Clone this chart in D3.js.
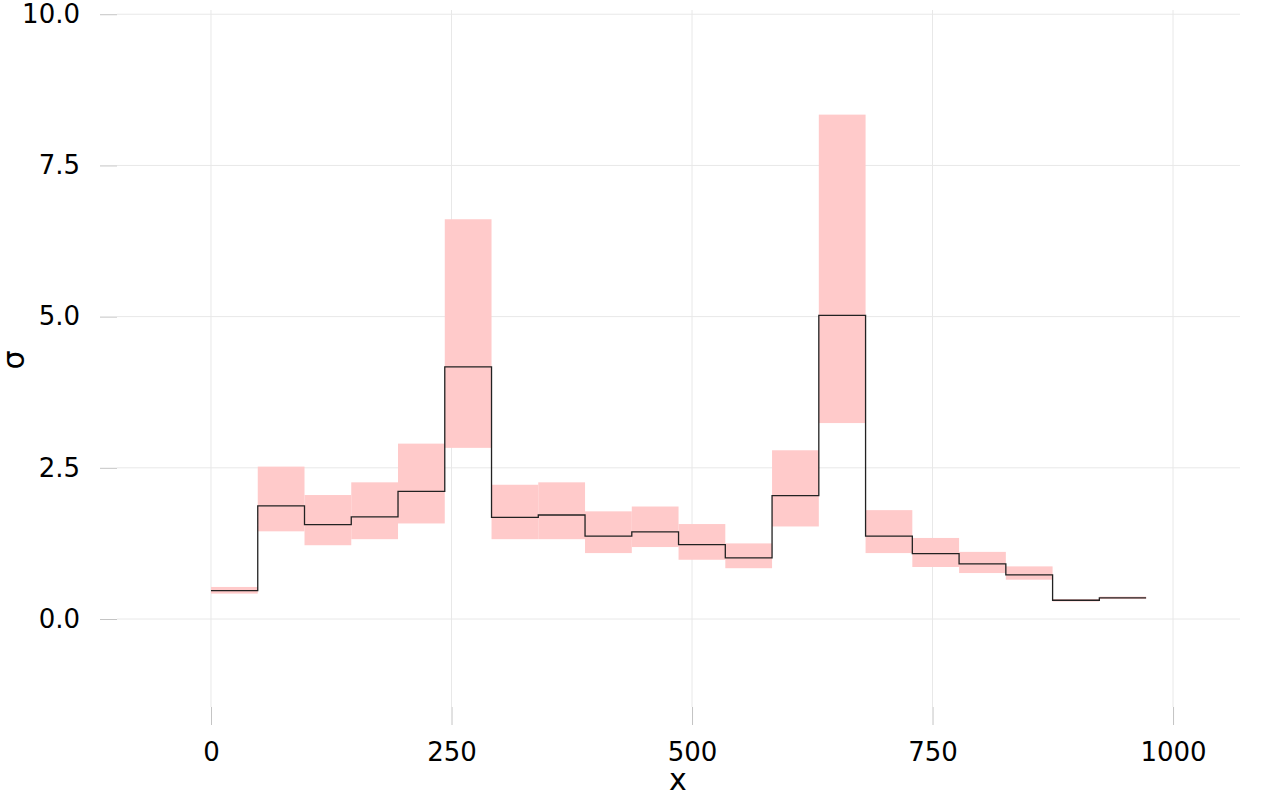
<!DOCTYPE html>
<html>
<head>
<meta charset="utf-8">
<script src="https://cdn.jsdelivr.net/npm/d3@7"></script>
<style>
  body { margin: 0; background: #fff; }
  svg text { font-family: "DejaVu Sans", sans-serif; fill: #000; }
</style>
</head>
<body>
<div id="chart"></div>
<script>
// bin edges along x
var binEdges = [0, 48.6, 97.2, 145.8, 194.4, 243, 291.6, 340.2, 388.8, 437.4, 486,
                534.6, 583.2, 631.8, 680.4, 729, 777.6, 826.2, 874.8, 923.4, 972];
// sigma estimate per bin
var sigmaMean = [0.47, 1.87, 1.56, 1.69, 2.11, 4.17, 1.68, 1.72, 1.37, 1.44,
                 1.23, 1.01, 2.04, 5.02, 1.37, 1.08, 0.91, 0.73, 0.31, 0.35];
var sigmaLow  = [0.42, 1.45, 1.22, 1.32, 1.58, 2.83, 1.32, 1.32, 1.09, 1.19,
                 0.98, 0.84, 1.53, 3.24, 1.09, 0.86, 0.76, 0.65, 0.29, 0.33];
var sigmaHigh = [0.53, 2.52, 2.05, 2.26, 2.90, 6.61, 2.22, 2.26, 1.78, 1.86,
                 1.57, 1.25, 2.79, 8.34, 1.80, 1.34, 1.11, 0.87, 0.33, 0.37];
var xTicks = [0, 250, 500, 750, 1000];
var yTicks = [0, 2.5, 5, 7.5, 10];

var svgWidth = 1280;
var svgHeight = 800;
var margin = { top: 10, right: 40, bottom: 93, left: 117 };
var width = svgWidth - margin.left - margin.right;
var height = svgHeight - margin.top - margin.bottom;

var svg = d3.select("#chart")
  .append("svg")
  .attr("width", svgWidth)
  .attr("height", svgHeight);

var chartGroup = svg.append("g")
  .attr("transform", `translate(${margin.left}, ${margin.top})`);

var xScale = d3.scaleLinear()
  .domain([-97.7, 1069.6])
  .range([0, width]);

var yScale = d3.scaleLinear()
  .domain([-1.455, 10.07])
  .range([height, 0]);

// gridlines
chartGroup.append("g")
  .selectAll("line")
  .data(yTicks)
  .enter()
  .append("line")
  .attr("x1", 0)
  .attr("x2", width)
  .attr("y1", d => yScale(d))
  .attr("y2", d => yScale(d))
  .attr("stroke", "#e8e8e8")
  .attr("stroke-width", 1);

chartGroup.append("g")
  .selectAll("line")
  .data(xTicks)
  .enter()
  .append("line")
  .attr("x1", d => xScale(d))
  .attr("x2", d => xScale(d))
  .attr("y1", 0)
  .attr("y2", height)
  .attr("stroke", "#e8e8e8")
  .attr("stroke-width", 1);

// axes
var bottomAxis = d3.axisBottom(xScale).tickValues(xTicks).tickSize(18).tickPadding(18)
  .tickFormat(d3.format("d"));
var leftAxis = d3.axisLeft(yScale).tickValues(yTicks).tickSize(17).tickPadding(20)
  .tickFormat(d3.format(".1f"));

var xAxisG = chartGroup.append("g")
  .attr("transform", `translate(0, ${height})`)
  .call(bottomAxis);
var yAxisG = chartGroup.append("g")
  .call(leftAxis);

[xAxisG, yAxisG].forEach(function (g) {
  g.select(".domain").remove();
  g.selectAll(".tick line").attr("stroke", "#c4c4c4").attr("stroke-width", 1);
  g.selectAll(".tick text")
    .style("font-family", "DejaVu Sans, sans-serif")
    .style("font-size", "26px")
    .attr("fill", "#000");
});

// uncertainty band per bin
var bins = sigmaMean.map(function (m, i) {
  return { x0: binEdges[i], x1: binEdges[i + 1], mean: m, low: sigmaLow[i], high: sigmaHigh[i] };
});

chartGroup.append("g")
  .selectAll("rect")
  .data(bins)
  .enter()
  .append("rect")
  .attr("x", d => xScale(d.x0))
  .attr("width", d => xScale(d.x1) - xScale(d.x0))
  .attr("y", d => yScale(d.high))
  .attr("height", d => yScale(d.low) - yScale(d.high))
  .attr("fill", "#ffcaca");

// step line
var stepPts = [];
bins.forEach(function (d) {
  stepPts.push([d.x0, d.mean]);
  stepPts.push([d.x1, d.mean]);
});

var line = d3.line()
  .x(d => xScale(d[0]))
  .y(d => yScale(d[1]));

chartGroup.append("path")
  .datum(stepPts)
  .attr("d", line)
  .attr("fill", "none")
  .attr("stroke", "#222")
  .attr("stroke-width", 1.3);

// axis titles
svg.append("text")
  .attr("x", 678)
  .attr("y", 790)
  .attr("text-anchor", "middle")
  .style("font-size", "30px")
  .text("x");

svg.append("text")
  .attr("transform", "translate(24, 360) rotate(-90)")
  .attr("text-anchor", "middle")
  .style("font-size", "30px")
  .text("σ");
</script>
</body>
</html>
